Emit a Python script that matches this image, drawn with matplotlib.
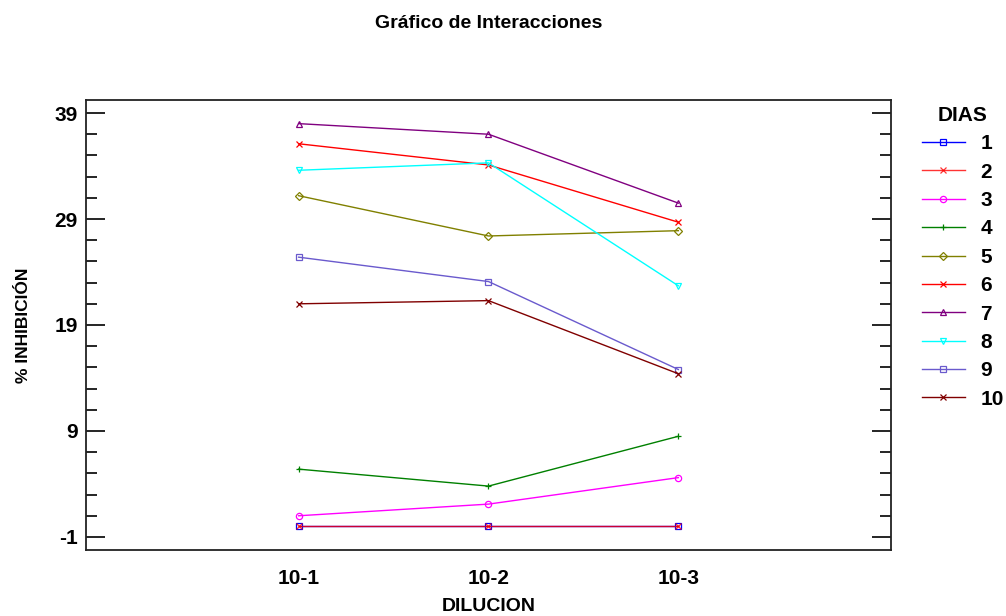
import matplotlib
matplotlib.use("Agg")
import matplotlib.pyplot as plt
from matplotlib.ticker import FixedLocator

# Dilution levels and the inhibition (%) for each day
diluciones = ["10-1", "10-2", "10-3"]
dias = ["1", "2", "3", "4", "5", "6", "7", "8", "9", "10"]
inhibicion = {
    "1": [0.0, 0.0, 0.0],
    "2": [0.0, 0.0, 0.0],
    "3": [1.0, 2.1, 4.6],
    "4": [5.4, 3.8, 8.5],
    "5": [31.2, 27.4, 27.9],
    "6": [36.1, 34.1, 28.7],
    "7": [38.0, 37.0, 30.5],
    "8": [33.6, 34.3, 22.7],
    "9": [25.4, 23.1, 14.8],
    "10": [21.0, 21.3, 14.4],
}

colores = {
    "1": "#0000ff", "2": "#ff0000", "3": "#ff00ff", "4": "#008000",
    "5": "#808000", "6": "#ff0000", "7": "#800080", "8": "#00ffff",
    "9": "#6a5acd", "10": "#800000",
}
marcadores = {
    "1": "s", "2": "x", "3": "o", "4": "+", "5": "D",
    "6": "x", "7": "^", "8": "v", "9": "s", "10": "x",
}

plt.rcParams["font.family"] = ["Liberation Sans", "DejaVu Sans"]
plt.rcParams["font.weight"] = "bold"
plt.rcParams["axes.unicode_minus"] = False

fig = plt.figure(figsize=(10.06, 6.16), dpi=100)
W, H = 1006, 616
left, right, top, bottom = 86, 891, 100, 550
ax = fig.add_axes([left / W, 1 - bottom / H, (right - left) / W, (bottom - top) / H])

x = [1, 2, 3]
for d in dias:
    ax.plot(x, inhibicion[d], color=colores[d], lw=1.0,
            marker=marcadores[d], markersize=4.5, markerfacecolor="none",
            markeredgecolor=colores[d], markeredgewidth=0.9, label=d,
            alpha=0.8 if d == "2" else 1.0)

ax.set_xlim(-0.12, 4.12)
ax.set_ylim(-2.23, 40.23)
ax.set_xticks(x)
ax.set_xticklabels(diluciones)
ax.tick_params(axis="x", length=0, labelsize=15, pad=14)
ax.yaxis.set_major_locator(FixedLocator([-1, 9, 19, 29, 39]))
ax.yaxis.set_minor_locator(FixedLocator([v for v in range(-1, 40, 2) if (v + 1) % 10 != 0]))
ax.tick_params(axis="y", which="major", direction="in", length=14, width=1.2,
               labelsize=15, left=True, right=True, pad=6)
ax.tick_params(axis="y", which="minor", direction="in", length=8, width=1.2,
               left=True, right=True)
for s in ax.spines.values():
    s.set_linewidth(1.3)
    s.set_color("#222222")

ax.set_xlabel("DILUCION", fontsize=14, fontweight="bold", labelpad=7)
ax.set_ylabel("% INHIBICIÓN", fontsize=12.5, fontweight="bold", labelpad=17)

fig.text((left + right) / 2 / W, 1 - 23 / H, "Gráfico de Interacciones",
         ha="center", va="center", fontsize=14, fontweight="bold")

leg = ax.legend(loc="upper left", bbox_to_anchor=(922 / W, 1 - 106 / H),
                bbox_transform=fig.transFigure, frameon=False,
                title="DIAS", fontsize=15, title_fontsize=15,
                handlelength=2.05, handletextpad=0.75, labelspacing=0.45,
                borderaxespad=0, borderpad=0)
leg.get_title().set_fontweight("bold")
leg._legend_box.align = "center"

fig.savefig("out.png", dpi=100)
